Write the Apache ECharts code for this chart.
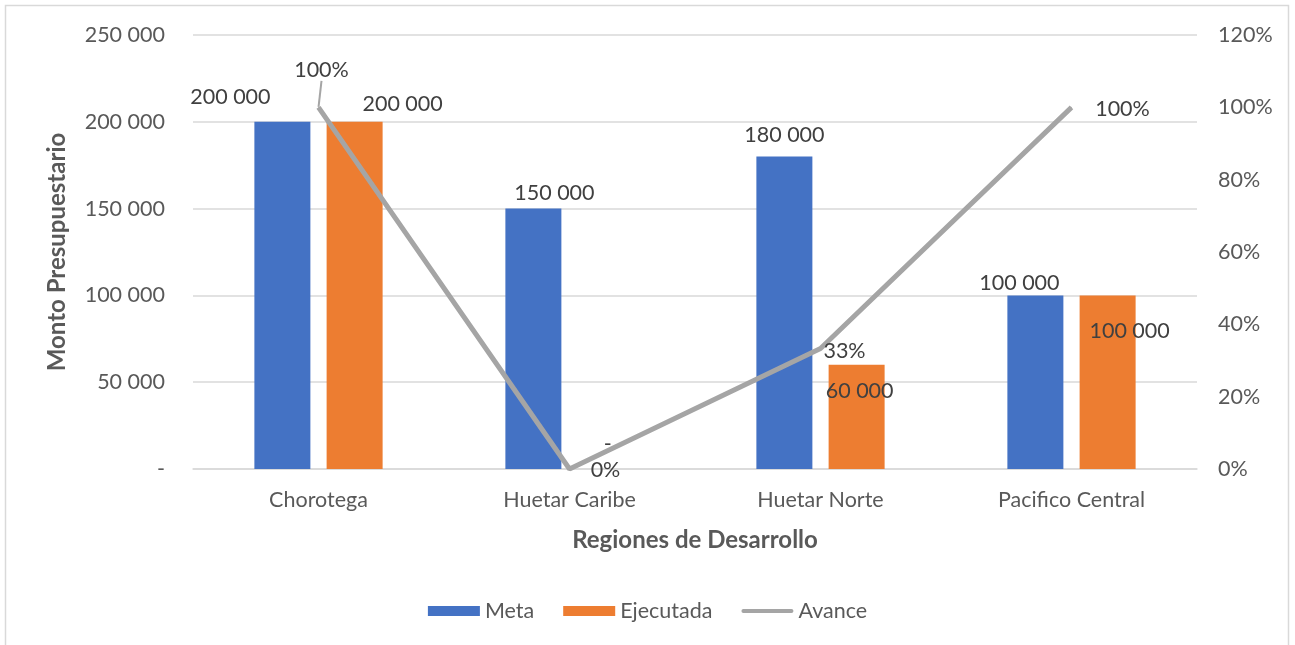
<!DOCTYPE html>
<html>
<head>
<meta charset="utf-8">
<script src="https://cdn.jsdelivr.net/npm/echarts@6/dist/echarts.min.js"></script>
<style>
  html, body { margin: 0; padding: 0; background: #fff; }
  #chart { width: 1295px; height: 645px; }
</style>
</head>
<body>
<div id="chart"></div>
<script>
// datos del grafico
var regiones = ['Chorotega', 'Huetar Caribe', 'Huetar Norte', 'Pacifico Central'];
var meta = [200000, 150000, 180000, 100000];
var ejecutada = [200000, 0, 60000, 100000];
var avance = [100, 0, 33.33, 100];

// desplazamiento de etiquetas (como en el original de Excel)
var offMeta = [[-52, -9], [21, 0], [0, -5], [-16, 4]];
var offEjec = [[48, -2], [2, -9], [3, 42], [22, 52]];
var offAvance = [[3, -21], [36, 18], [24, 19], [51, 18]];

var gris = '#595959';
var fuente = 'Lato';
var fs = 21.5;

function miles(v) {
  if (v === 0) return '-';
  return String(v).replace(/\B(?=(\d{3})+(?!\d))/g, ' ');
}

function barData(vals, offs) {
  return vals.map(function (v, i) {
    return { value: v, label: { offset: offs[i] } };
  });
}

var chart = echarts.init(document.getElementById('chart'));
chart.setOption({
  textStyle: { fontFamily: fuente },
  graphic: [{
    type: 'rect',
    shape: { x: 5.5, y: 5.5, width: 1283, height: 660 },
    style: { fill: 'none', stroke: '#D9D9D9', lineWidth: 1.5 },
    silent: true
  }],
  grid: { left: 193, right: 98, top: 35, bottom: 176 },
  legend: {
    bottom: 18,
    left: 'center',
    itemWidth: 52,
    itemHeight: 10,
    itemGap: 29,
    textStyle: { fontSize: fs, color: gris, fontFamily: fuente },
    data: [
      { name: 'Meta', icon: 'rect' },
      { name: 'Ejecutada', icon: 'rect' },
      { name: 'Avance', icon: 'path://M2,0 L50,0 Q52,0 52,2 Q52,4 50,4 L2,4 Q0,4 0,2 Q0,0 2,0 Z' }
    ]
  },
  xAxis: {
    type: 'category',
    data: regiones,
    name: 'Regiones de Desarrollo',
    nameLocation: 'middle',
    nameGap: 59,
    nameTextStyle: { fontSize: 24, fontWeight: 'bold', color: gris, fontFamily: fuente },
    axisLine: { lineStyle: { color: '#D9D9D9', width: 1.5 } },
    axisTick: { show: false },
    axisLabel: { fontSize: fs, color: gris, margin: 20, fontFamily: fuente }
  },
  yAxis: [{
    type: 'value',
    min: 0, max: 250000, interval: 50000,
    name: 'Monto Presupuestario',
    nameLocation: 'middle',
    nameGap: 124,
    nameRotate: 90,
    nameTextStyle: { fontSize: 24, fontWeight: 'bold', color: gris, fontFamily: fuente },
    axisLine: { show: false },
    axisTick: { show: false },
    splitLine: { lineStyle: { color: '#D9D9D9', width: 1.5 } },
    axisLabel: { fontSize: fs, color: gris, margin: 28, fontFamily: fuente, formatter: miles }
  }, {
    type: 'value',
    min: 0, max: 120, interval: 20,
    position: 'right',
    axisLine: { show: false },
    axisTick: { show: false },
    splitLine: { show: false },
    axisLabel: { fontSize: fs, color: gris, margin: 21, fontFamily: fuente, formatter: '{value}%' }
  }],
  series: [{
    name: 'Meta',
    type: 'bar',
    barWidth: 56,
    barGap: '29%',
    itemStyle: { color: '#4472C4' },
    label: { show: true, position: 'top', distance: 5, fontSize: fs, color: '#404040', fontFamily: fuente,
      formatter: function (p) { return miles(p.value); } },
    data: barData(meta, offMeta)
  }, {
    name: 'Ejecutada',
    type: 'bar',
    barWidth: 56,
    itemStyle: { color: '#ED7D31' },
    label: { show: true, position: 'top', distance: 5, fontSize: fs, color: '#404040', fontFamily: fuente,
      formatter: function (p) { return miles(p.value); } },
    data: barData(ejecutada, offEjec)
  }, {
    name: 'Avance',
    type: 'line',
    yAxisIndex: 1,
    symbol: 'circle',
    symbolSize: 1,
    showSymbol: true,
    lineStyle: { color: '#A5A5A5', width: 5 },
    itemStyle: { color: '#A5A5A5' },
    label: { show: true, position: 'top', distance: 5, fontSize: fs, color: '#404040', fontFamily: fuente,
      formatter: function (p) { return Math.round(p.value) + '%'; } },
    labelLine: { show: false, lineStyle: { color: '#A5A5A5', width: 2 } },
    labelLayout: function (p) {
      return { dx: offAvance[p.dataIndex][0], dy: offAvance[p.dataIndex][1] };
    },
    data: avance.map(function (v, i) {
      return i === 0 ? { value: v, labelLine: { show: true } } : v;
    })
  }]
});
</script>
</body>
</html>
